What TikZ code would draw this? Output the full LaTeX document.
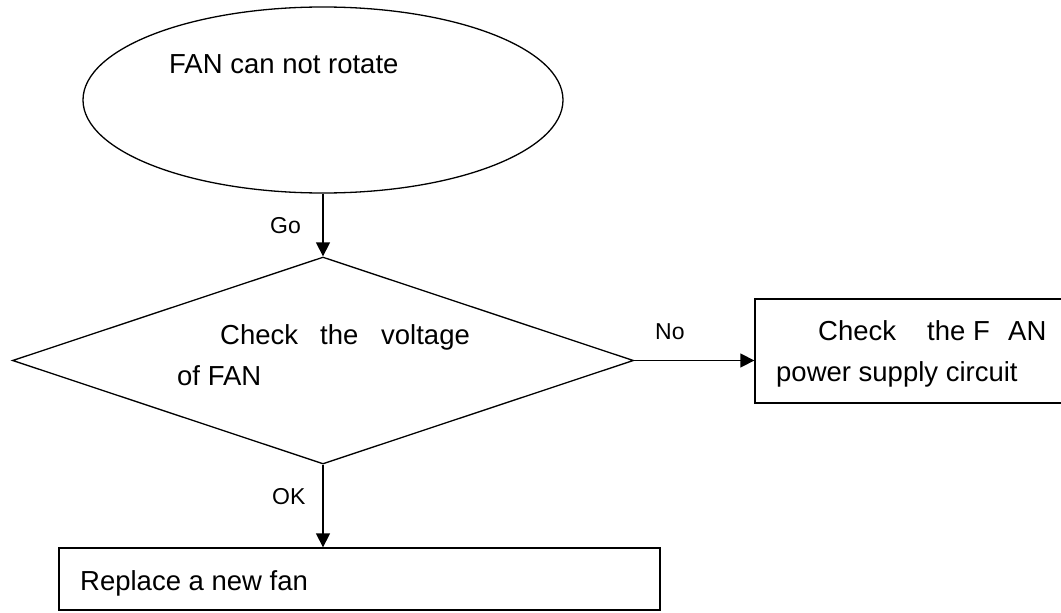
\documentclass[tikz,border=0pt]{standalone}
\usepackage{fontspec}
\setmainfont{Liberation Sans}
\usetikzlibrary{shapes.geometric,arrows.meta}
\begin{document}
\begin{tikzpicture}[x=1pt,y=-1pt,
  line/.style={line width=1.3pt},
  arr/.style={line, -{Triangle[length=14pt,width=14pt]}},
  txt/.style={anchor=base west, inner sep=0pt, font=\fontsize{27.5}{32}\selectfont},
  lbl/.style={anchor=base west, inner sep=0pt, font=\fontsize{23}{27}\selectfont},
  shp/.style={draw, line, inner sep=0pt}]
\useasboundingbox (0,0) rectangle (1061,613);
\clip (0,0) rectangle (1061,613);
% shapes
\node[shp, ellipse, minimum width=480pt, minimum height=186pt] (start) at (323,100) {};
\node[shp, diamond, minimum width=621pt, minimum height=207pt] (check) at (323,360.5) {};
\node[shp, rectangle, minimum width=340pt, minimum height=104pt] (fanbox) at (925,351) {};
\node[shp, rectangle, minimum width=601pt, minimum height=62pt] (replace) at (359.5,579) {};
% texts
\node[txt] (t1) at (169,73) {FAN can not rotate};
\node[txt] (t2a) at (220,344) {Check};
\node[txt] (t2b) at (320,344) {the};
\node[txt] (t2c) at (381,344) {voltage};
\node[txt] (t2d) at (177,385) {of FAN};
\node[txt] (t3a) at (818,340) {Check};
\node[txt] (t3b) at (927,340) {the F};
\node[txt] (t3c) at (1008,340) {AN};
\node[txt] (t3d) at (776,381) {power supply circuit};
\node[txt] (t4) at (80,590) {Replace a new fan};
% labels
\node[lbl] (go) at (270,233) {Go};
\node[lbl] (no) at (655,339) {No};
\node[lbl] (ok) at (272,504) {OK};
% connectors
\draw[arr] (start.south) -- (check.north);
\draw[arr] (check.east) -- (check.east -| fanbox.west);
\draw[arr] (check.south) -- (check.south |- replace.north);
\end{tikzpicture}
\end{document}
